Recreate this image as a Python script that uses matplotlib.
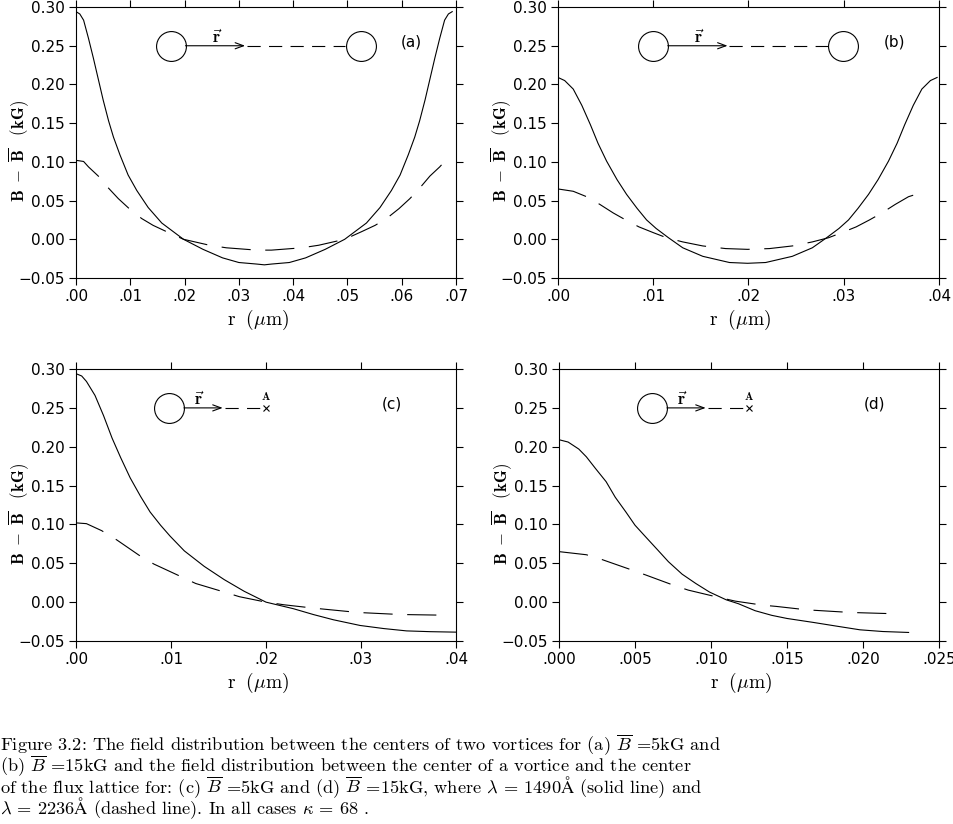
import matplotlib
matplotlib.use("Agg")
import matplotlib.pyplot as plt

plt.rcParams["mathtext.fontset"] = "cm"
plt.rcParams["lines.scale_dashes"] = False

# ---- data (r in um, B - Bbar in kG) ----
# (a) Bbar = 5 kG, between two vortices
r_a_solid = [0, .0007, .0014, .0023, .0032, .0041, .005, .006, .0069, .0081, .0096, .0112, .0133,
             .0158, .0198, .0234, .027, .030, .0333, .0347, .036, .0393, .0423, .0459, .0495,
             .0535, .056, .0581, .0597, .0612, .0624, .0633, .0643, .0652, .0661, .067, .0679,
             .0686, .0693]
B_a_solid = [.294, .291, .283, .2595, .234, .207, .180, .153, .132, .109, .083, .063, .041,
             .021, 0, -.013, -.024, -.030, -.032, -.033, -.032, -.030, -.024, -.013, 0,
             .021, .041, .063, .083, .109, .132, .153, .180, .207, .234, .2595, .283,
             .291, .294]
r_a_dash = [0, .0014, .0023, .0041, .006, .0078, .0098, .0121, .0142, .0167, .0198, .0246,
            .0277, .0333, .0347, .036, .0416, .0447, .0495, .0526, .0551, .0572, .0595, .0615,
            .0633, .0652, .067, .0679, .0693]
B_a_dash = [.102, .1005, .0935, .0817, .066, .0525, .0396, .0268, .018, .0098, 0, -.0077,
            -.011, -.014, -.014, -.014, -.011, -.0077, 0, .0098, .018, .0268, .0396, .0525,
            .066, .0817, .0935, .1005, .102]

# (b) Bbar = 15 kG, between two vortices
r_b_solid = [0, .0007, .0016, .0025, .0034, .0042, .0051, .0062, .0072, .0083, .0093, .0103,
             .0116, .0131, .0152, .018, .0199, .0218, .0246, .0267, .0282, .0295, .0305, .0315,
             .0326, .0336, .0347, .0356, .0364, .0373, .0382, .0391, .0398]
B_b_solid = [.209, .205, .194, .173, .148, .124, .101, .077, .058, .040, .025, .014,
             .002, -.011, -.022, -.030, -.031, -.030, -.022, -.011, .002, .014, .025, .040,
             .058, .077, .101, .124, .148, .173, .194, .205, .209]
r_b_dash = [0, .0016, .003, .0044, .0058, .0071, .0085, .01, .0114, .0131, .0152, .0176,
            .0199, .0222, .0246, .0267, .0284, .0298, .0313, .0327, .034, .0354, .0368, .0386]
B_b_dash = [.065, .062, .055, .045, .034, .025, .016, .0086, .002, -.0034, -.0086, -.012,
            -.013, -.012, -.0086, -.0034, .002, .0086, .016, .025, .034, .045, .055, .062]

# (c) Bbar = 5 kG, vortex centre to lattice centre
r_c_solid = [0, .0006, .0011, .002, .0029, .0038, .0047, .0057, .0068, .0078, .0089, .0099,
             .0114, .0135, .0156, .0177, .02, .0229, .025, .0271, .0299, .0324, .0348, .0373, .04]
B_c_solid = [.294, .291, .284, .266, .240, .211, .186, .160, .136, .116, .099, .085,
             .066, .046, .029, .014, 0, -.0085, -.016, -.0227, -.030, -.034, -.037, -.038, -.0386]
r_c_dash = [0, .0011, .0027, .0043, .0068, .0082, .0112, .0126, .0156, .0172, .02, .0219,
            .025, .0297, .0341, .0383]
B_c_dash = [.102, .101, .092, .080, .059, .049, .032, .024, .013, .007, 0, -.0034,
            -.0077, -.0133, -.0159, -.0167]

# (d) Bbar = 15 kG, vortex centre to lattice centre
r_d_solid = [0, .0006, .0013, .0018, .0024, .0031, .0037, .0044, .005, .0057, .0065, .0072,
             .0081, .009, .0099, .011, .0118, .0129, .014, .015, .0167, .0183, .0198, .0213, .023]
B_d_solid = [.209, .206, .197, .187, .172, .155, .135, .116, .099, .084, .067, .052,
             .036, .024, .013, .003, -.002, -.011, -.017, -.021, -.026, -.031, -.0356, -.0378, -.039]
r_d_dash = [0, .0018, .0028, .0047, .0057, .0075, .0085, .0104, .0116, .0134, .0143, .0163,
            .0192, .0222]
B_d_dash = [.065, .061, .055, .042, .035, .022, .0155, .0066, .0013, -.0039, -.0055, -.0099,
            -.0133, -.015]

y_ticks = [-0.05, 0.0, 0.05, 0.10, 0.15, 0.20, 0.25, 0.30]
y_labels = ["\u22120.05", "0.00", "0.05", "0.10", "0.15", "0.20", "0.25", "0.30"]
x_ticks_a = [0, .01, .02, .03, .04, .05, .06, .07]
x_labels_a = [".00", ".01", ".02", ".03", ".04", ".05", ".06", ".07"]
x_ticks_bc = [0, .01, .02, .03, .04]
x_labels_bc = [".00", ".01", ".02", ".03", ".04"]
x_ticks_d = [0, .005, .010, .015, .020, .025]
x_labels_d = [".000", ".005", ".010", ".015", ".020", ".025"]

caption = [
    r"Figure 3.2: The field distribution between the centers of two vortices for (a) $\overline{B}$ =5kG and",
    r"(b) $\overline{B}$ =15kG and the field distribution between the center of a vortice and the center",
    r"of the flux lattice for: (c) $\overline{B}$ =5kG and (d) $\overline{B}$ =15kG, where $\lambda$ = 1490$\mathrm{\AA}$ (solid line) and",
    r"$\lambda$ = 2236$\mathrm{\AA}$ (dashed line). In all cases $\kappa$ = 68 .",
]

fig = plt.figure(figsize=(9.54, 8.24), dpi=100)
W, H = 954.0, 824.0


def make_axes(x0, y0, x1, y1):
    # pixel box (top-left origin) -> figure fraction
    return fig.add_axes([x0 / W, 1 - y1 / H, (x1 - x0) / W, (y1 - y0) / H])


def panel(ax, rs, bs, rd, bd, xmax, xt, xl, tag, two_vortex):
    ax.plot(rs, bs, color="black", lw=0.8)
    ax.plot(rd, bd, color="black", lw=0.8, dashes=(21, 10.5))
    ax.set_xlim(0, xmax)
    ax.set_ylim(-0.05, 0.30)
    ax.set_xticks(xt)
    ax.set_xticklabels(xl)
    ax.set_yticks(y_ticks)
    ax.set_yticklabels(y_labels)
    ax.tick_params(direction="out", length=5, width=0.8, top=True, right=True,
                   labelsize=11, pad=3, colors="black")
    for s in ax.spines.values():
        s.set_linewidth(0.8)

    ax.set_xlabel(r"$\mathrm{r}\ \ (\mu\mathrm{m})$", fontsize=14)
    ax.xaxis.set_label_coords(0.479, -0.155)
    ax.xaxis.label.set_va("center")
    ax.set_ylabel(r"$\mathbf{B}\ -\ \overline{\mathbf{B}}\ \ \ \mathbf{(kG)}$", fontsize=12)
    ax.yaxis.set_label_coords(-0.150, 0.468)
    ax.yaxis.label.set_va("center")

    # little sketch of the path
    T = ax.transAxes
    yc = 0.857
    if two_vortex:
        cx, tip, dash_end, rx = 0.249, 0.445, 0.708, 0.370
    else:
        cx, tip, dash_end, rx = 0.245, 0.386, 0.500, 0.324
    ax.plot([cx], [yc], "o", ms=21.5, mfc="none", mec="black", mew=0.8, transform=T)
    ax.annotate("", xy=(tip, yc), xytext=(cx + 0.039, yc), xycoords=T, textcoords=T,
                arrowprops=dict(arrowstyle="->,head_length=0.6,head_width=0.22", lw=0.8,
                                color="black", shrinkA=0, shrinkB=0))
    ax.plot([tip + 0.005, dash_end], [yc, yc], color="black", lw=0.8,
            dashes=(9.5, 6), transform=T)
    ax.text(rx, yc + 0.03, r"$\vec{\mathbf{r}}$", transform=T, ha="center", va="center",
            fontsize=12)
    if two_vortex:
        ax.plot([0.749], [yc], "o", ms=21.5, mfc="none", mec="black", mew=0.8, transform=T)
        tx = 0.883
    else:
        ax.plot([dash_end], [yc], "x", ms=5, mec="black", mew=0.8, transform=T)
        ax.text(dash_end, yc + 0.045, r"$\mathbf{A}$", transform=T, ha="center",
                va="center", fontsize=8)
        tx = 0.831
    ax.text(tx, 0.872, tag, transform=T, ha="center", va="center", fontsize=11)


ax_a = make_axes(76, 7, 456, 278)
ax_b = make_axes(558, 7, 939, 278)
ax_c = make_axes(76, 369, 456, 641)
ax_d = make_axes(559, 369, 939, 641)

panel(ax_a, r_a_solid, B_a_solid, r_a_dash, B_a_dash, 0.07, x_ticks_a, x_labels_a, "(a)", True)
panel(ax_b, r_b_solid, B_b_solid, r_b_dash, B_b_dash, 0.04, x_ticks_bc, x_labels_bc, "(b)", True)
panel(ax_c, r_c_solid, B_c_solid, r_c_dash, B_c_dash, 0.04, x_ticks_bc, x_labels_bc, "(c)", False)
panel(ax_d, r_d_solid, B_d_solid, r_d_dash, B_d_dash, 0.025, x_ticks_d, x_labels_d, "(d)", False)

# caption as one block of text
fig.text(0.0, 1 - 733 / H, "\n".join(caption), ha="left", va="top", fontsize=13.2,
         linespacing=0.76, family=["cmr10", "DejaVu Serif"])

fig.savefig("out.png", dpi=100)
